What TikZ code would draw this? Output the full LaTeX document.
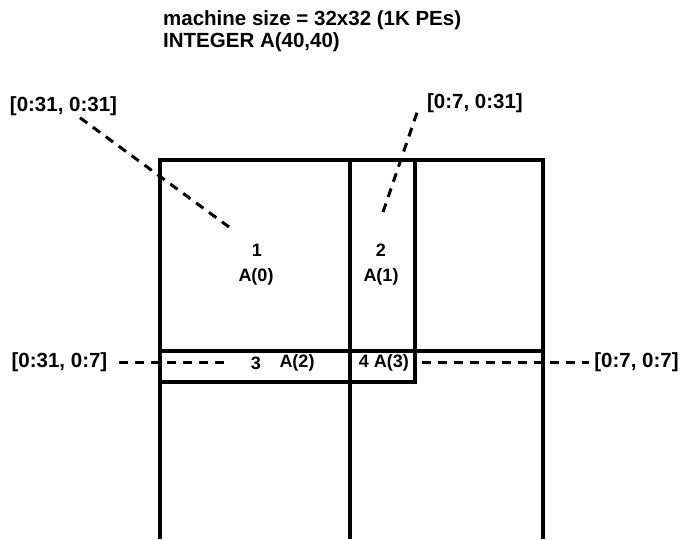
\documentclass[tikz,border=0pt]{standalone}
\usepackage{fontspec}
\setmainfont{Liberation Sans}
\usetikzlibrary{calc}
\begin{document}
\begin{tikzpicture}[x=1pt,y=-1pt,
  lbl/.style={font=\bfseries\fontsize{20.5}{22}\selectfont, inner sep=0pt},
  cell/.style={font=\bfseries\fontsize{18}{20}\selectfont, inner sep=0pt},
  wall/.style={line width=3.4pt},
  lead/.style={line width=3pt, dash pattern=on 9pt off 7pt}]
\useasboundingbox (0,0) rectangle (681,539);
% title
\node[lbl, anchor=base west] (t1) at (163,25) {machine size = 32x32 (1K PEs)};
\node[lbl, anchor=base west] (t2) at (163,47) {INTEGER A(40,40)};
% grid
\draw[wall] (160,539) -- (160,160) -- (543,160) -- (543,539);
\draw[wall] (350,160) -- (350,539);
\draw[wall] (415,160) -- (415,382) -- (160,382);
\draw[wall] (160,351) -- (543,351);
% range labels
\node[lbl] (l1) at (63.5,106) {[0:31, 0:31]};
\node[lbl] (l2) at (475,103) {[0:7, 0:31]};
\node[lbl] (l3) at (59.5,362) {[0:31, 0:7]};
\node[lbl] (l4) at (636.5,362) {[0:7, 0:7]};
% cell labels
\node[cell] (n1) at (257,250) {1};
\node[cell] (a0) at (256,277) {A(0)};
\node[cell] (n2) at (381,250) {2};
\node[cell] (a1) at (381,277) {A(1)};
\node[cell] (n3) at (256,363) {3};
\node[cell] (a2) at (297,363) {A(2)};
\node[cell] (n4) at (384,363) {4 A(3)};
% leaders
\coordinate (e1) at (229,227);
\coordinate (e2) at (382,215);
\coordinate (e3) at (225,362);
\coordinate (s4) at (422,362);
\draw[lead] ($(l1.south)+(16.5,2)$) -- (e1);
\draw[lead] ($(l2.south west)+(-10,0)$) -- (e2);
\draw[lead] ($(l3.east)+(11,0)$) -- (e3);
\draw[lead] (s4) -- ($(l4.west)+(-5,0)$);
\end{tikzpicture}
\end{document}
